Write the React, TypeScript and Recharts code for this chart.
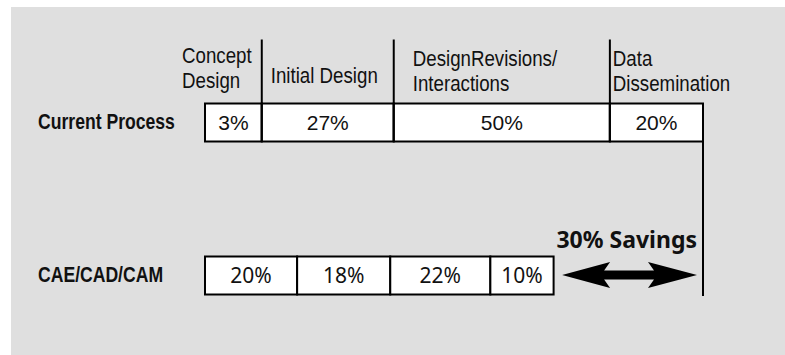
import React from "react";
import { BarChart, Bar, XAxis, YAxis, ReferenceLine } from "recharts";

// ---- data ----
const categories = ["Current Process", "CAE/CAD/CAM"];
// relative span of each phase on the time axis (current process = 100)
const currentSpans = [11.4, 26.5, 43.4, 18.7];
const caeSpans = [18.5, 18.7, 20.1, 12.7];
const currentLabels = ["3%", "27%", "50%", "20%"];
const caeLabels = ["20%", "18%", "22%", "10%"];
const phaseNames = [
  ["Concept", "Design"],
  ["Initial Design"],
  ["DesignRevisions/", "Interactions"],
  ["Data", "Dissemination"],
];
const savingsLabel = "30% Savings";

const segKeys = ["s0", "s1", "s2", "s3"];
const data = categories.map((name, r) => {
  const spans = r === 0 ? currentSpans : caeSpans;
  const labels = r === 0 ? currentLabels : caeLabels;
  const row: any = { name };
  spans.forEach((v, i) => {
    row[segKeys[i]] = v;
    row["l" + i] = labels[i];
  });
  return row;
});
const currentTotal = currentSpans.reduce((a, b) => a + b, 0);
const caeTotal = caeSpans.reduce((a, b) => a + b, 0);

// ---- styles ----
const ARIAL = "'Liberation Sans', Arial, sans-serif";
const HUMAN = "'Noto Sans', 'Open Sans', sans-serif";
const NARROW_SCALE = 0.85;
const headerLayout = [
  { dx: -23, dy: [-41, -16] },
  { dx: 9, dy: [-21] },
  { dx: 19, dy: [-38, -13] },
  { dx: 3, dy: [-38, -13] },
];

const NarrowText = ({ x, y, bold, scale, children }: any) => (
  <text
    transform={`translate(${x},${y}) scale(${scale ?? NARROW_SCALE},1)`}
    x={0}
    y={0}
    fontFamily={ARIAL}
    fontWeight={bold ? 700 : 400}
    fontSize={22}
    fill="#111"
  >
    {children}
  </text>
);

const makeShape = (k: number) => (props: any) => {
  const { x, y, width, height, index, payload } = props;
  const isCurrent = index === 0;
  const label = payload["l" + k];
  const cy = y + height / 2;
  return (
    <g>
      <rect x={x} y={y} width={width} height={height} fill="#fff" stroke="#000" strokeWidth={2} />
      {isCurrent && k > 0 && (
        <line x1={x} x2={x} y1={y - 64} y2={y + height} stroke="#000" strokeWidth={2} />
      )}
      {isCurrent &&
        phaseNames[k].map((t, j) => (
          <NarrowText key={j} x={x + headerLayout[k].dx} y={y + headerLayout[k].dy[j]}>
            {t}
          </NarrowText>
        ))}
      <text
        x={x + width / 2}
        y={cy + 7}
        textAnchor="middle"
        fontFamily={isCurrent ? ARIAL : HUMAN}
        fontSize={21}
        fill="#111"
      >
        {label}
      </text>
    </g>
  );
};

const TallLine = (props: any) => {
  const { x1, y1, y2 } = props;
  return <line x1={x1} x2={x1} y1={y1 - 19} y2={y2 + 21} stroke="#000" strokeWidth={2} />;
};

const SavingsArrow = (props: any) => {
  const { x1, x2, y1 } = props;
  const L = x1 + 8.5;
  const R = x2 - 6;
  const c = y1;
  const pts = [
    [L, c],
    [L + 48, c - 13],
    [L + 42, c - 4.5],
    [R - 43, c - 4.5],
    [R - 49, c - 13],
    [R, c],
    [R - 49, c + 13],
    [R - 43, c + 4.5],
    [L + 42, c + 4.5],
    [L + 48, c + 13],
  ]
    .map((p) => p.join(","))
    .join(" ");
  return (
    <g>
      <polygon points={pts} fill="#000" />
      <text x={R} y={c - 27} textAnchor="end" fontFamily={HUMAN} fontWeight={700} fontSize={23} fill="#111">
        {savingsLabel}
      </text>
    </g>
  );
};

const YTick = (props: any) => {
  const { y, payload } = props;
  return (
    <NarrowText x={38} y={y + 6.5} bold scale={0.8}>
      {payload.value}
    </NarrowText>
  );
};

export default function App() {
  return (
    <div style={{ position: "absolute", left: 0, top: 0, width: 785, height: 355, background: "#fff" }}>
      <div style={{ position: "absolute", left: 11, top: 7, width: 774, height: 348, background: "#dfdfdf" }} />
      <div style={{ position: "absolute", left: 0, top: 0 }}>
        <BarChart
          width={785}
          height={355}
          data={data}
          layout="vertical"
          margin={{ top: 45.5, right: 82, bottom: 3.5, left: 0 }}
          barSize={38}
        >
          <XAxis type="number" domain={[0, 100]} hide />
          <YAxis type="category" dataKey="name" width={205} axisLine={false} tickLine={false} tick={<YTick />} />
          {segKeys.map((k, i) => (
            <Bar key={k} dataKey={k} stackId="a" isAnimationActive={false} shape={makeShape(i)} />
          ))}
          <ReferenceLine
            segment={[
              { x: currentTotal, y: categories[0] },
              { x: currentTotal, y: categories[1] },
            ]}
            ifOverflow="visible"
            shape={TallLine}
          />
          <ReferenceLine
            segment={[
              { x: caeTotal, y: categories[1] },
              { x: currentTotal, y: categories[1] },
            ]}
            ifOverflow="visible"
            shape={SavingsArrow}
          />
        </BarChart>
      </div>
    </div>
  );
}
